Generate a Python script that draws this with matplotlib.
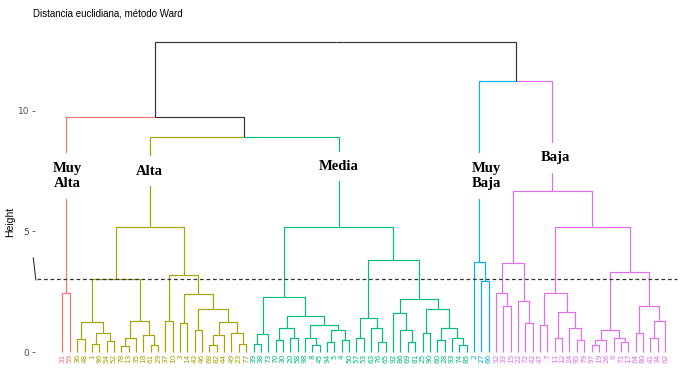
import matplotlib.pyplot as plt

# Ward clustering: [height, left, right]; leaves are labels
muy_alta = [2.45, "31", "59"]
alta = [5.2,
        [3.03,
         [1.25, [0.55, "36", "48"], [0.8, [0.35, "1", "96"], [0.45, "54", "52"]]],
         [1.3, [0.6, [0.25, "78", "13"], "35"], [0.7, "18", [0.3, "61", "29"]]]],
        [3.2,
         [1.3, "37", "10"],
         [2.4, [1.2, "3", "14"],
          [1.8, [0.9, "43", "46"],
           [1.25, [0.7, [0.3, "68", "82"], "44"], [0.8, "49", [0.35, "23", "77"]]]]]]]
media = [5.2,
         [2.3,
          [0.75, [0.35, "39", "38"], "73"],
          [1.5, [1.0, [0.5, "70", "30"], [0.6, "20", "58"]],
           [1.1, [0.6, "98", [0.3, "8", "45"]], [0.9, [0.4, "94", "5"], [0.5, "4", "50"]]]]],
         [3.8,
          [1.4, [0.6, "57", "53"], [1.0, "63", [0.4, "76", "65"]]],
          [2.2, [1.6, "92", [0.9, "86", [0.4, "69", "81"]]],
           [1.8, [0.8, "25", "90"], [1.0, [0.5, "60", "28"], [0.6, "93", [0.3, "74", "85"]]]]]]]
muy_baja = [3.73, "2", [2.95, "27", "66"]]
baja = [6.7,
        [3.7, [2.45, "32", [1.9, "33", "15"]], [2.1, "22", [1.2, "72", "42"]]],
        [5.2,
         [2.45, [1.1, "47", "7"], [1.65, [0.6, "11", "12"], [1.0, "24", [0.5, "95", "79"]]]],
         [3.3,
          [0.9, [0.5, [0.3, "97", "19"], "26"], [0.6, "6", [0.4, "71", "17"]]],
          [1.9, [0.8, "64", "80"], [1.3, [0.6, "41", "34"], "62"]]]]]

clusters = [muy_alta, alta, media, muy_baja, baja]
cluster_names = ["Muy\nAlta", "Alta", "Media", "Muy\nBaja", "Baja"]
cluster_colors = ["#F8766D", "#A3A500", "#00BF7D", "#00B0F6", "#E76BF3"]
name_heights = [7.3, 7.5, 7.7, 7.3, 8.05]
name_offsets = [0.2, 0, 0, 1.0, 0.4]

top = [12.86, [9.75, muy_alta, [8.9, alta, media]], [11.25, muy_baja, baja]]
cut_height = 3.03


def collect(node, out):
    if isinstance(node, str):
        out.append(node)
    else:
        collect(node[1], out)
        collect(node[2], out)
    return out


def root_x(n):
    if isinstance(n, str):
        return pos[n]
    return (root_x(n[1]) + root_x(n[2])) / 2


leaf_color = {}
for tree, col in zip(clusters, cluster_colors):
    for lab in collect(tree, []):
        leaf_color[lab] = col

order = collect(top, [])
pos = {lab: i for i, lab in enumerate(order)}

fig = plt.figure(figsize=(6.89, 3.68), dpi=100)
ax = fig.add_axes([35 / 689, 16 / 368, 645 / 689, 322 / 368])


def draw(node):
    # returns x, height, colour of the subtree (None if mixed)
    if isinstance(node, str):
        return pos[node], 0.0, leaf_color[node]
    h, left, right = node
    xl, hl, cl = draw(left)
    xr, hr, cr = draw(right)
    x = (xl + xr) / 2
    for cx, ch, cc in [(xl, hl, cl), (xr, hr, cr)]:
        ax.plot([cx, cx, x], [ch, h, h], color=cc or "#333333", lw=0.85,
                solid_capstyle="butt", clip_on=False)
    return x, h, cl if cl == cr else None


draw(top)

for lab in order:
    ax.text(pos[lab], -0.08, lab, rotation=90, ha="center", va="top",
            fontsize=5.3, color=leaf_color[lab], clip_on=False)

for tree, name, hh, off in zip(clusters, cluster_names, name_heights, name_offsets):
    ax.text(root_x(tree) + off, hh, name, ha="center", va="center",
            fontsize=10.5, fontweight="bold", family="Liberation Serif",
            linespacing=1.25,
            bbox=dict(facecolor="white", edgecolor="none", pad=6))

ax.axhline(cut_height, xmin=0.003, xmax=0.995, color="#333333", lw=0.9,
           linestyle=(0, (3, 2.2)))
# small stroke left of the cut line
ax.plot([-3.97, -3.63], [3.9, 2.99], color="#333333", lw=0.8, clip_on=False)

# leaf 0 at pixel 62.5, leaf 82 at pixel 665
ax.set_xlim(-(62.5 - 35) / 7.35, 82 + (680 - 665) / 7.35)
ax.set_ylim(0, 13.36)
for s in ax.spines.values():
    s.set_visible(False)
ax.set_xticks([])
ax.set_yticks([0, 5, 10])
ax.tick_params(axis="y", length=2.5, width=0.6, color="#4d4d4d",
               labelsize=6.5, labelcolor="#4d4d4d", pad=1.5)

fig.text(10 / 689, 1 - 222 / 368, "Height", rotation=90, ha="center",
         va="center", fontsize=7.5, family="Liberation Sans")
fig.text(33 / 689, 1 - 14 / 368, "Distancia euclidiana, método Ward",
         fontsize=7.0, family="Liberation Sans", va="center", ha="left")

fig.savefig("out.png", dpi=100)
